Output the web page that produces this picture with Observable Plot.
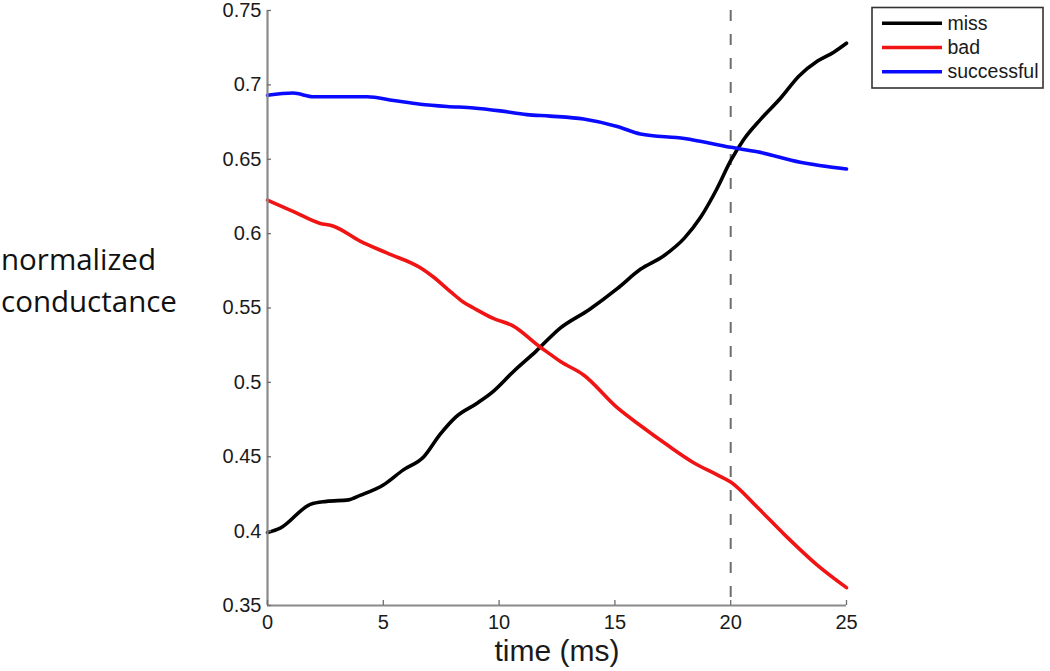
<!DOCTYPE html>
<html>
<head>
<meta charset="utf-8">
<script src="https://cdn.jsdelivr.net/npm/d3@7"></script>
<script src="https://cdn.jsdelivr.net/npm/@observablehq/plot@0.6"></script>
<style>
  html, body { margin: 0; padding: 0; background: #fff; }
  #wrap { position: relative; width: 1050px; height: 671px; }
  #overlay { position: absolute; left: 0; top: 0; pointer-events: none; }
</style>
</head>
<body>
<div id="wrap"></div>
<script>
// ---- data ----
const seriesNames = ["miss", "bad", "successful"];
const seriesColors = ["#000000", "#f01414", "#0a0aff"];

const missT = [0, 0.55, 1.85, 2.55, 3.5, 4.0, 5.0, 5.85, 6.75, 7.45, 8.15, 9.05, 9.75, 10.6, 11.6, 12.6, 13.9, 15.1, 16.1, 17.1, 18.0, 18.7, 19.4, 20.0, 20.55, 21.3, 22.15, 22.95, 23.75, 24.45, 25];
const missV = [0.399, 0.402, 0.418, 0.420, 0.421, 0.424, 0.431, 0.441, 0.450, 0.465, 0.477, 0.486, 0.494, 0.507, 0.521, 0.536, 0.549, 0.563, 0.576, 0.585, 0.597, 0.611, 0.630, 0.649, 0.663, 0.677, 0.691, 0.706, 0.716, 0.722, 0.728];

const badT = [0, 1.1, 2.25, 2.85, 4.0, 5.15, 6.6, 7.15, 7.9, 8.45, 8.9, 9.75, 10.6, 11.75, 12.2, 12.65, 13.65, 15.1, 16.1, 17.25, 18.4, 19.4, 20.0, 21.15, 22.3, 23.75, 25];
const badV = [0.6225, 0.615, 0.607, 0.605, 0.595, 0.587, 0.577, 0.571, 0.561, 0.554, 0.550, 0.543, 0.538, 0.524, 0.519, 0.514, 0.505, 0.483, 0.471, 0.458, 0.446, 0.438, 0.433, 0.416, 0.398, 0.377, 0.362];

const successT = [0, 1.1, 2.0, 3.15, 4.3, 5.45, 6.6, 7.75, 8.9, 10.05, 11.2, 12.2, 13.65, 15.1, 16.1, 18.0, 20.0, 21.15, 23.0, 25];
const successV = [0.693, 0.6945, 0.692, 0.692, 0.692, 0.6895, 0.687, 0.6855, 0.6845, 0.6825, 0.680, 0.679, 0.677, 0.672, 0.667, 0.664, 0.658, 0.655, 0.648, 0.6435];

const xTicks = [0, 5, 10, 15, 20, 25];
const yTicks = [0.35, 0.4, 0.45, 0.5, 0.55, 0.6, 0.65, 0.7, 0.75];
const markerTime = [20];
const xLabel = "time (ms)";
const yLabelLines = ["normalized", "conductance"];

// ---- build table ----
const rows = [];
[[missT, missV], [badT, badV], [successT, successV]].forEach(([ts, vs], i) => {
  ts.forEach((t, j) => rows.push({series: seriesNames[i], t, v: vs[j]}));
});

const W = 1050, H = 671;
const mL = 267, mR = 204, mT = 10, mB = 66;
const frameW = W - mL - mR, frameH = H - mT - mB;
const tickFont = "'Liberation Sans', Arial, Helvetica, sans-serif";

const chart = Plot.plot({
  width: W, height: H,
  marginLeft: mL, marginRight: mR, marginTop: mT, marginBottom: mB,
  style: {background: "#fff", fontFamily: tickFont, color: "#1a1a1a", overflow: "visible"},
  x: {domain: [0, 25], ticks: xTicks},
  y: {domain: [0.35, 0.75], ticks: yTicks},
  color: {domain: seriesNames, range: seriesColors},
  marks: [
    Plot.ruleX(markerTime, {stroke: "#6e6e6e", strokeWidth: 2, strokeDasharray: "11,13"}),
    Plot.line(rows, {x: "t", y: "v", z: "series", stroke: "series", strokeWidth: 3.6, curve: "monotone-x"}),
    Plot.ruleX([0], {stroke: "#8a8a8a", strokeWidth: 2.2}),
    Plot.ruleY([0.35], {stroke: "#8a8a8a", strokeWidth: 2.2}),
    Plot.tickY(yTicks, {y: d => d, stroke: "#6e6e6e", strokeWidth: 1.3, insetRight: frameW - 4}),
    Plot.tickX(xTicks, {x: d => d, stroke: "#6e6e6e", strokeWidth: 1.3, insetTop: frameH - 5}),
    Plot.axisX(xTicks, {tickSize: 0, tickPadding: 9, fontSize: 20, label: null, tickFormat: d => String(d)}),
    Plot.axisY(yTicks, {tickSize: 0, tickPadding: 6, fontSize: 20, label: null, tickFormat: d => String(+d.toFixed(2))}),
    Plot.text([xLabel], {frameAnchor: "bottom", dy: 45.5, fontSize: 30, lineAnchor: "middle", fill: "#1a1a1a"})
  ]
});

const wrap = document.getElementById("wrap");
wrap.appendChild(chart);

// ---- overlay: y label and legend ----
const ns = "http://www.w3.org/2000/svg";
const ov = document.createElementNS(ns, "svg");
ov.setAttribute("id", "overlay");
ov.setAttribute("width", W);
ov.setAttribute("height", H);
function el(tag, attrs, text) {
  const e = document.createElementNS(ns, tag);
  for (const k in attrs) e.setAttribute(k, attrs[k]);
  if (text != null) e.textContent = text;
  ov.appendChild(e);
  return e;
}
yLabelLines.forEach((s, i) => {
  el("text", {x: 1, y: 270 + i * 42, "font-family": "'Open Sans', sans-serif", "font-size": 29.5, fill: "#111"}, s);
});
// legend
el("rect", {x: 872, y: 7.5, width: 171, height: 80.5, fill: "#fff", stroke: "#333", "stroke-width": 1.6});
seriesNames.forEach((s, i) => {
  const y = 23.3 + i * 24.2;
  el("line", {x1: 882, x2: 942, y1: y, y2: y, stroke: seriesColors[i], "stroke-width": 3.4});
  el("text", {x: 947.5, y: y + 6.5, "font-family": tickFont, "font-size": 19.5, fill: "#1a1a1a"}, s);
});
wrap.appendChild(ov);
</script>
</body>
</html>
